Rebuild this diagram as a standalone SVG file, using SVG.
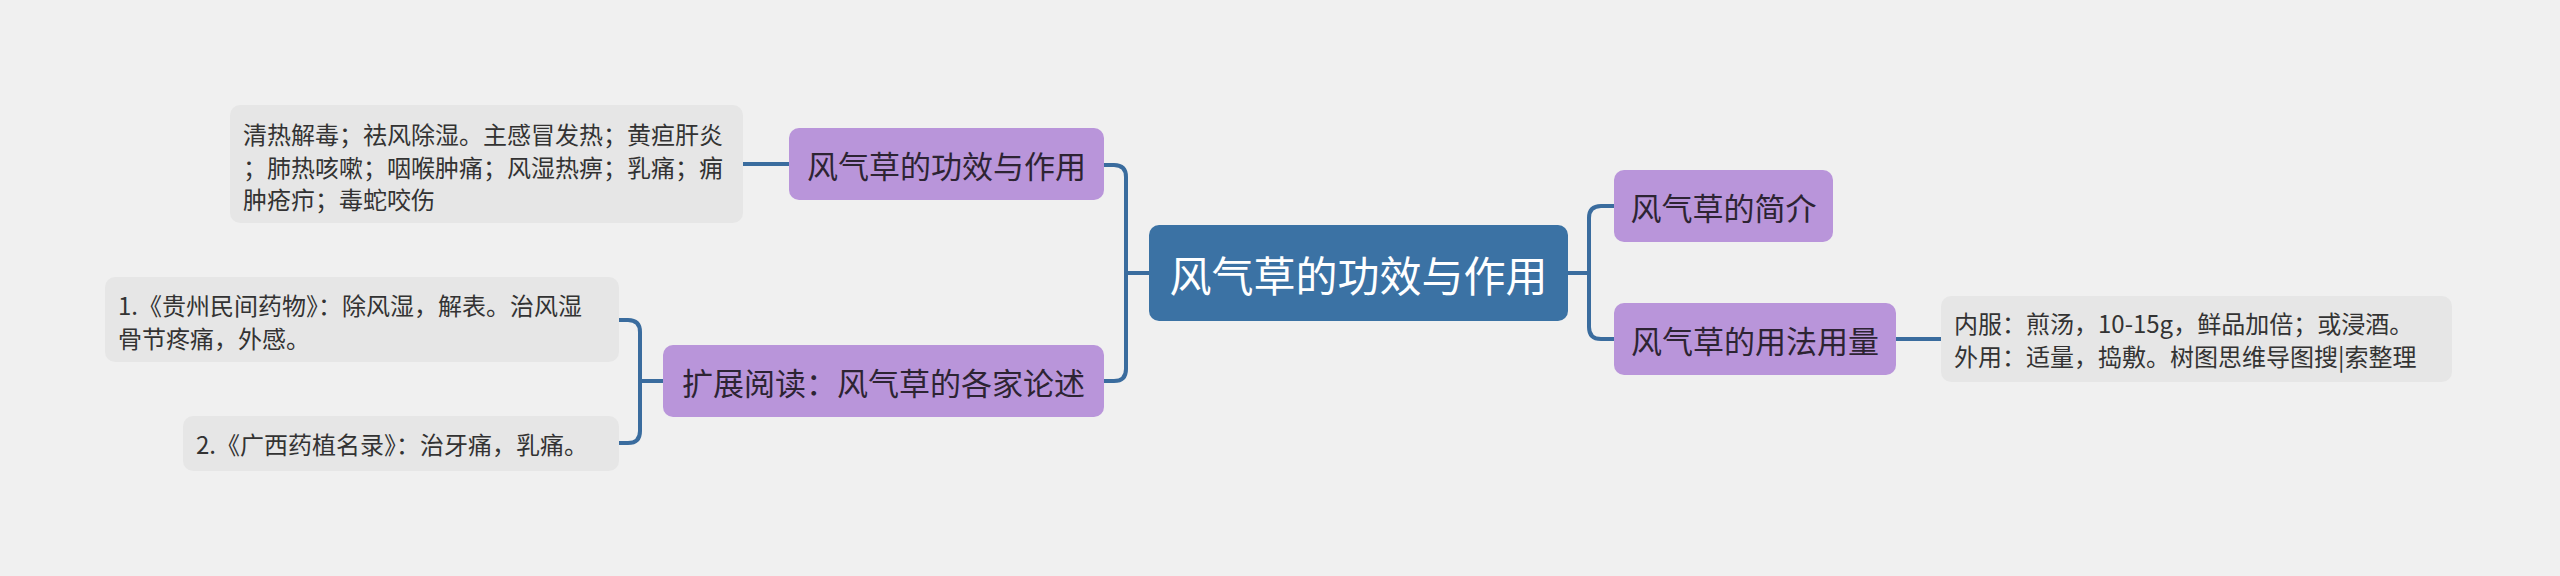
<svg xmlns="http://www.w3.org/2000/svg" width="2560" height="576" viewBox="0 0 2560 576">
<style>
.bg{fill:#f0f0f0}
.root rect{fill:#3b72a4}
.root text{fill:#ffffff;font-size:42px;text-anchor:middle;dominant-baseline:central}
.sub rect{fill:#b995da}
.sub text{fill:#2d2433;font-size:31px;text-anchor:middle;dominant-baseline:central}
.leaf rect{fill:#e6e6e6}
.leaf text{fill:#333333;font-size:24px;dominant-baseline:central}
text{font-family:"Noto Sans CJK SC","Noto Sans",sans-serif}
.conn path{fill:none;stroke:#3a6c9e;stroke-width:4;stroke-linecap:round}
</style>
<rect class="bg" x="0" y="0" width="2560" height="576"/>
<g class="conn">
<path d="M1149 273 H1126 M1104 165 H1114 Q1126 165 1126 177 V369 Q1126 381 1114 381 H1104"/>
<path d="M1568 273 H1589 M1614 206 H1601 Q1589 206 1589 218 V327 Q1589 339 1601 339 H1614"/>
<path d="M789 164 H743"/>
<path d="M663 381 H640 M619 320 H628 Q640 320 640 332 V431 Q640 443 628 443 H619"/>
<path d="M1896 339 H1941"/>
</g>
<g id="root" class="root">
<rect x="1149" y="225" width="419" height="96" rx="10"/>
<text x="1358.5" y="273">风气草的功效与作用</text>
</g>
<g id="n-gongxiao" class="sub">
<rect x="789" y="128" width="315" height="72" rx="10"/>
<text x="946.5" y="164">风气草的功效与作用</text>
</g>
<g id="n-kuozhan" class="sub">
<rect x="663" y="345" width="441" height="72" rx="10"/>
<text x="883.5" y="381">扩展阅读：风气草的各家论述</text>
</g>
<g id="n-jianjie" class="sub">
<rect x="1614" y="170" width="219" height="72" rx="10"/>
<text x="1723.5" y="206">风气草的简介</text>
</g>
<g id="n-yongfa" class="sub">
<rect x="1614" y="303" width="282" height="72" rx="10"/>
<text x="1755" y="339">风气草的用法用量</text>
</g>
<g id="leaf-gongxiao" class="leaf">
<rect x="230" y="105" width="513" height="118" rx="10"/>
<text x="243" y="133">清热解毒；祛风除湿。主感冒发热；黄疸肝炎</text>
<text x="243" y="166">；肺热咳嗽；咽喉肿痛；风湿热痹；乳痛；痈</text>
<text x="243" y="198">肿疮疖；毒蛇咬伤</text>
</g>
<g id="leaf-1" class="leaf">
<rect x="105" y="277" width="514" height="85" rx="10"/>
<text x="118" y="304">1.《贵州民间药物》：除风湿，解表。治风湿</text>
<text x="118" y="337">骨节疼痛，外感。</text>
</g>
<g id="leaf-2" class="leaf">
<rect x="183" y="416" width="436" height="55" rx="10"/>
<text x="196" y="443">2.《广西药植名录》：治牙痛，乳痛。</text>
</g>
<g id="leaf-yongfa" class="leaf">
<rect x="1941" y="296" width="511" height="86" rx="10"/>
<text x="1954" y="322">内服：煎汤，10-15g，鲜品加倍；或浸酒。</text>
<text x="1954" y="355">外用：适量，捣敷。树图思维导图搜|索整理</text>
</g>
</svg>
